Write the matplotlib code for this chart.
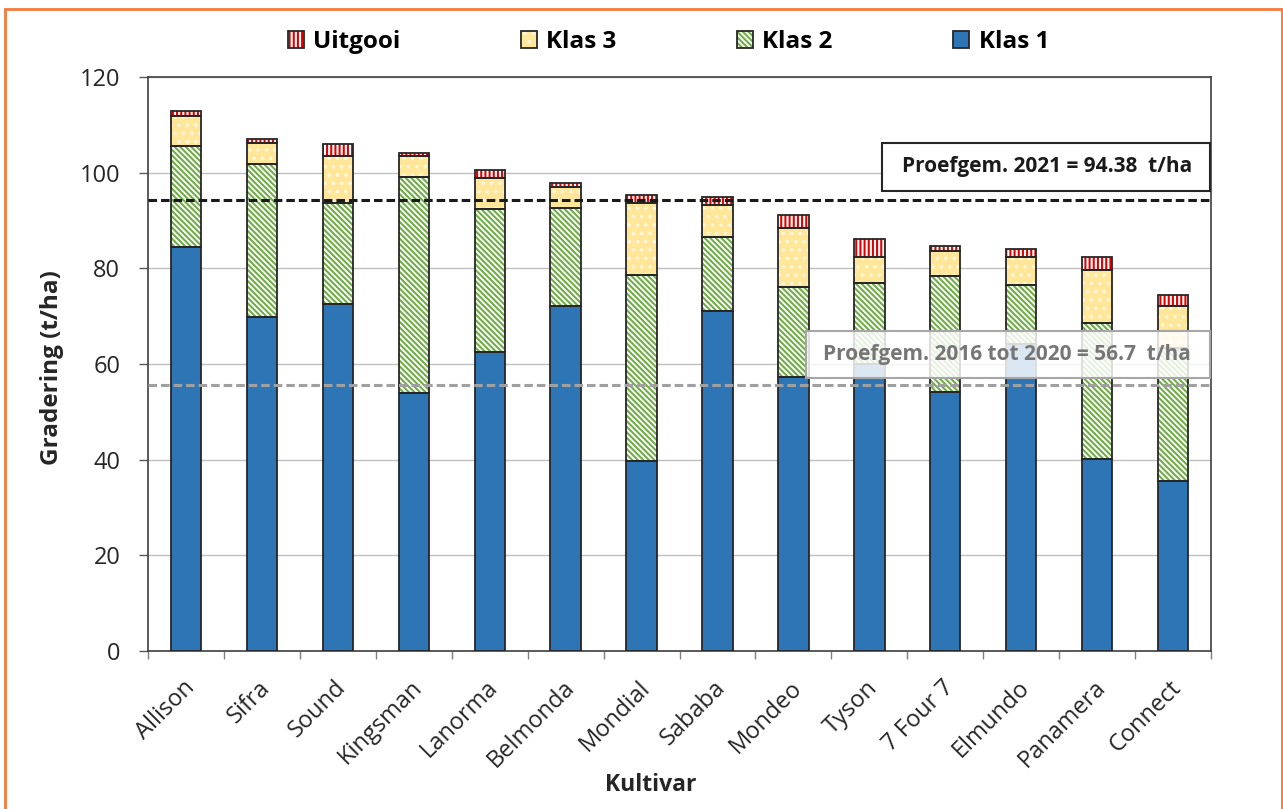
import matplotlib.pyplot as plt
from matplotlib.patches import Patch, Rectangle
from matplotlib.transforms import ScaledTranslation
import numpy as np

# data (t/ha)
kultivars = ['Allison', 'Sifra', 'Sound', 'Kingsman', 'Lanorma', 'Belmonda', 'Mondial',
             'Sababa', 'Mondeo', 'Tyson', '7 Four 7', 'Elmundo', 'Panamera', 'Connect']
klas1 = [84.5, 69.8, 72.5, 53.9, 62.5, 72.1, 39.7, 71.1, 57.3, 60.1, 54.1, 64.2, 40.1, 35.5]
klas2 = [21.1, 32.0, 21.1, 45.2, 29.9, 20.6, 38.9, 15.4, 18.8, 16.8, 24.3, 12.4, 28.5, 27.8]
klas3 = [6.3, 4.4, 9.9, 4.3, 6.5, 4.4, 15.0, 6.8, 12.4, 5.4, 5.3, 5.8, 11.0, 8.8]
uitgooi = [1.0, 0.9, 2.5, 0.8, 1.7, 0.8, 1.7, 1.6, 2.6, 3.9, 0.9, 1.6, 2.8, 2.3]
gem_2021 = 94.38
gem_2016_2020 = 55.6
txt_2021 = 'Proefgem. 2021 = 94.38  t/ha'
txt_hist = 'Proefgem. 2016 tot 2020 = 56.7  t/ha'

plt.rcParams['font.family'] = ['Open Sans', 'DejaVu Sans']
plt.rcParams['hatch.linewidth'] = 1.5

edge = '#262626'
blue = '#2E75B6'
green = '#70AD47'
yellow = '#FFE699'
dots = '#FFF6D8'
red = '#E00000'
h_green = '\\' * 6
h_red = '||||'
h_dots = '..'

fig = plt.figure(figsize=(12.83, 8.09), dpi=100)
ax = fig.add_axes([0.1154, 0.1953, 0.8285, 0.7095])

x = np.arange(len(kultivars))
w = 0.4
b2 = np.array(klas1)
b3 = b2 + np.array(klas2)
b4 = b3 + np.array(klas3)

# blue base
ax.bar(x, klas1, w, color=blue, edgecolor=edge, linewidth=1.3, zorder=3)
# hatched parts: hatch in its own colour, outline drawn on top
for vals, bot, fc, hatch, hc in [(klas2, b2, 'white', h_green, green),
                                 (klas3, b3, yellow, h_dots, dots),
                                 (uitgooi, b4, 'white', h_red, red)]:
    ax.bar(x, vals, w, bottom=bot, color=fc, hatch=hatch, edgecolor=hc, linewidth=0, zorder=2)
    ax.bar(x, vals, w, bottom=bot, fill=False, edgecolor=edge, linewidth=1.3, zorder=3)

# average lines
ax.axhline(gem_2021, color='#1a1a1a', lw=2.2, dashes=(2.8, 1.3), zorder=4)
ax.axhline(gem_2016_2020, color='#A0A0A0', lw=2.2, dashes=(2.8, 1.3), zorder=4)

ax.add_patch(Rectangle((0.6905, 0.802), 0.3085, 0.0835, transform=ax.transAxes,
                       facecolor='white', edgecolor=edge, lw=1.5, zorder=6))
ax.text(0.8457, 0.8437, txt_2021, transform=ax.transAxes, ha='center', va='center',
        fontsize=15, fontweight='bold', color='#1a1a1a', zorder=7)
ax.add_patch(Rectangle((0.619, 0.4756), 0.38, 0.0824, transform=ax.transAxes,
                       facecolor=(1, 1, 1, 0.83), edgecolor='#A6A6A6', lw=1.5, zorder=6))
ax.text(0.808, 0.517, txt_hist, transform=ax.transAxes, ha='center', va='center',
        fontsize=15, fontweight='bold', color='#767676', zorder=7)

# axes
ax.set_xlim(-0.5, len(kultivars) - 0.5)
ax.set_ylim(0, 120)
ax.set_yticks(range(0, 121, 20))
ax.yaxis.grid(True, color='#BFBFBF', lw=1)
ax.set_axisbelow(True)
for s in ax.spines.values():
    s.set_color('#404040')
    s.set_linewidth(1.2)
ax.tick_params(axis='y', labelsize=17, length=6.5, width=1, color='#595959', pad=13.5,
               labelcolor='#262626')

ax.set_xticks(x)
ax.set_xticklabels(kultivars, rotation=45, ha='right', va='center', rotation_mode='anchor')
ax.set_xticks(np.arange(-0.5, len(kultivars), 1), minor=True)
ax.tick_params(axis='x', which='major', length=0, pad=24, labelsize=17, labelcolor='#262626')
ax.tick_params(axis='x', which='minor', length=6, width=1, color='#808080')
for lab in ax.get_xticklabels():
    lab.set_transform(lab.get_transform() + ScaledTranslation(0.05, 0, fig.dpi_scale_trans))

ax.set_ylabel('Gradering (t/ha)', fontsize=17.5, fontweight='bold', color='#262626')
ax.yaxis.set_label_coords(-0.079, 0.493)
ax.set_xlabel('Kultivar', fontsize=16.5, fontweight='bold', color='#262626')
ax.xaxis.set_label_coords(0.473, -0.212)

# legend
outline = dict(fill=False, edgecolor=edge, lw=1.3)
handles = [(Patch(facecolor='white', edgecolor=red, hatch=h_red, lw=0), Patch(**outline)),
           (Patch(facecolor=yellow, edgecolor=dots, hatch=h_dots, lw=0), Patch(**outline)),
           (Patch(facecolor='white', edgecolor=green, hatch=h_green, lw=0), Patch(**outline)),
           (Patch(facecolor=blue, lw=0), Patch(**outline))]
fig.legend(handles, ['Uitgooi', 'Klas 3', 'Klas 2', 'Klas 1'], loc='center',
           bbox_to_anchor=(0.521, 0.948), ncol=4, frameon=False, columnspacing=4.95,
           handlelength=0.65, handleheight=0.75, handletextpad=0.4,
           prop={'weight': 'bold', 'size': 17.5})

# orange frame round the figure
fig.add_artist(Rectangle((4.5 / 1283, -0.02), 1277.5 / 1283, 0.02 + 800 / 809,
                         transform=fig.transFigure, fill=False, edgecolor='#F4793B', lw=2))

fig.savefig('out.png', dpi=100)
